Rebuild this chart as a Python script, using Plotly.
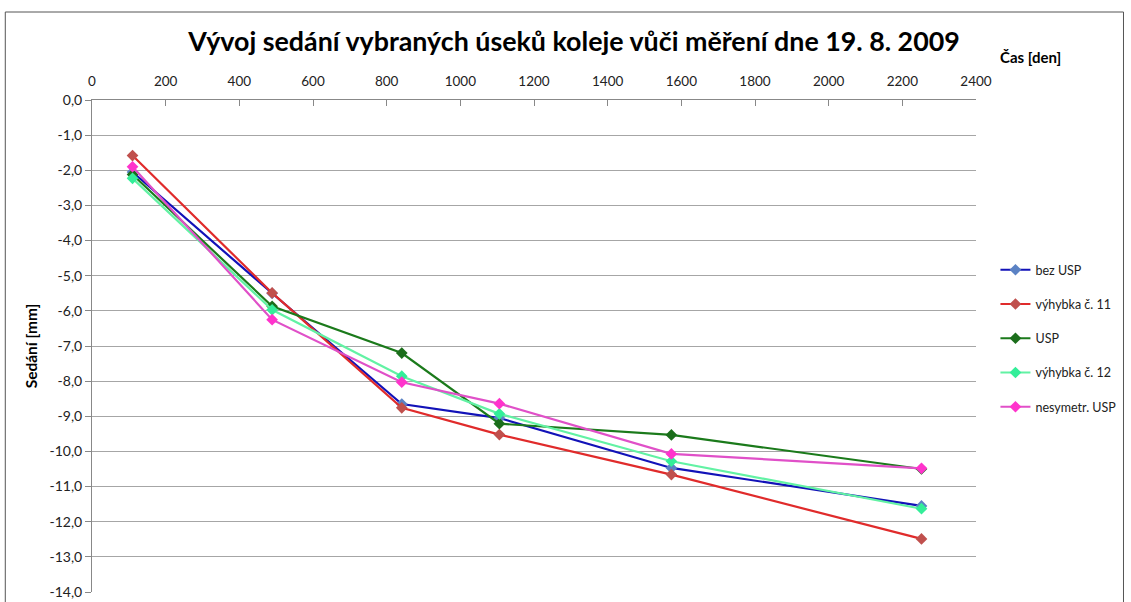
import plotly.graph_objects as go

# ---- data ----
days = [110, 489, 841, 1106, 1573, 2252]
series_names = ["bez USP", "výhybka č. 11", "USP", "výhybka č. 12", "nesymetr. USP"]
bez_usp = [-2.05, -5.50, -8.65, -9.05, -10.47, -11.55]
vyhybka_11 = [-1.58, -5.49, -8.76, -9.52, -10.66, -12.49]
usp = [-2.12, -5.87, -7.20, -9.21, -9.53, -10.50]
vyhybka_12 = [-2.23, -5.97, -7.86, -8.93, -10.28, -11.63]
nesymetr_usp = [-1.90, -6.25, -8.03, -8.64, -10.07, -10.48]

x_tick_vals = [0, 200, 400, 600, 800, 1000, 1200, 1400, 1600, 1800, 2000, 2200, 2400]
y_tick_vals = [0, -1, -2, -3, -4, -5, -6, -7, -8, -9, -10, -11, -12, -13, -14]
y_tick_labels = ["0,0", "-1,0", "-2,0", "-3,0", "-4,0", "-5,0", "-6,0", "-7,0",
                 "-8,0", "-9,0", "-10,0", "-11,0", "-12,0", "-13,0", "-14,0"]

# ---- styles ----
line_colors = ["#1212B8", "#E02B2B", "#1B7A1B", "#62F2A4", "#E050C8"]
marker_colors = ["#5B82C4", "#C0504D", "#1B6E1B", "#33EE99", "#FF33CC"]
values = [bez_usp, vyhybka_11, usp, vyhybka_12, nesymetr_usp]

FONT = "Lato"

fig = go.Figure()
for i, (name, yv) in enumerate(zip(series_names, values)):
    fig.add_trace(go.Scatter(
        x=days, y=yv, name=name, mode="lines+markers",
        legendgroup=f"g{i}",
        line=dict(color=line_colors[i], width=2.2),
        marker=dict(symbol="diamond", size=9, color=marker_colors[i],
                    line=dict(width=0)),
    ))

fig.update_layout(
    width=1131, height=602,
    margin=dict(l=92, r=152, t=100, b=10),
    paper_bgcolor="white", plot_bgcolor="white",
    font=dict(family=FONT, size=13, color="#222"),
    title=dict(text="<b>Vývoj sedání vybraných úseků koleje vůči měření dne 19. 8. 2009</b>",
               x=0.5075, xref="container", xanchor="center",
               y=1 - 42 / 602, yref="container", yanchor="middle",
               font=dict(family=FONT, size=26.8, color="#000")),
    showlegend=True,
    legend=dict(x=1.022, xanchor="left", y=0.515, yanchor="middle",
                font=dict(family=FONT, size=12.5, color="#222"),
                tracegroupgap=15, traceorder="grouped",
                itemwidth=30,
                bgcolor="rgba(0,0,0,0)"),
    xaxis=dict(side="top", range=[0, 2400], tickvals=x_tick_vals,
               showgrid=False, zeroline=False, automargin=False,
               showline=True, linecolor="#888", linewidth=1,
               ticks="inside", ticklen=6, tickcolor="#888",
               ticklabelstandoff=8,
               tickfont=dict(family=FONT, size=13.5, color="#222")),
    yaxis=dict(range=[-14, 0], tickvals=y_tick_vals, ticktext=y_tick_labels,
               showgrid=True, gridcolor="#A6A6A6", gridwidth=1.3,
               zeroline=False, showline=True, linecolor="#888", linewidth=1,
               automargin=False,
               ticks="outside", ticklen=6, tickcolor="#888",
               tickfont=dict(family=FONT, size=14, color="#222"),
               title=dict(text="<b>Sedání [mm]</b>", standoff=8,
                          font=dict(family=FONT, size=15.5, color="#000"))),
)

fig.add_annotation(text="<b>Čas [den]</b>", xref="paper", yref="paper",
                   x=1.062, y=1.087, xanchor="center", yanchor="middle",
                   showarrow=False, font=dict(family=FONT, size=15, color="#000"))

# outer chart frame
fig.add_shape(type="rect", xref="paper", yref="paper",
              x0=(5 - 92) / 887, x1=(1127 - 92) / 887,
              y0=-0.1, y1=1 + (100 - 12) / 492,
              line=dict(color="#555", width=1), fillcolor="rgba(0,0,0,0)",
              layer="below")

fig.write_html("out.html",
               config={"displayModeBar": False},
               post_script="document.body.style.margin='0';document.body.style.padding='0';")
